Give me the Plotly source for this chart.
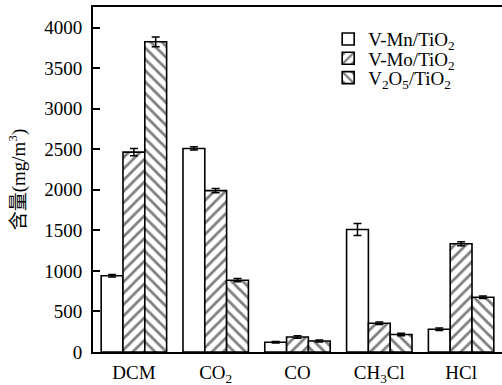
import plotly.graph_objects as go

categories = ["DCM", "CO<sub>2</sub>", "CO", "CH<sub>3</sub>Cl", "HCl"]
series_names = ["V-Mn/TiO<sub>2</sub>", "V-Mo/TiO<sub>2</sub>", "V<sub>2</sub>O<sub>5</sub>/TiO<sub>2</sub>"]
vmn = [940, 2510, 120, 1510, 280]
vmn_err = [15, 20, 10, 75, 15]
vmo = [2465, 1990, 185, 355, 1335]
vmo_err = [45, 25, 15, 15, 25]
v2o5 = [3825, 885, 135, 215, 675]
v2o5_err = [60, 20, 12, 15, 15]
y_ticks = [0, 500, 1000, 1500, 2000, 2500, 3000, 3500, 4000]

FONT = "Liberation Serif, Times New Roman, Noto Sans CJK SC, serif"
patterns = ["", "/", "\\"]
values = [vmn, vmo, v2o5]
errors = [vmn_err, vmo_err, v2o5_err]
legend_ids = ["legend", "legend2", "legend3"]
legend_y = [0.907, 0.851, 0.795]

fig = go.Figure()
for name, vals, errs, pat, lg in zip(series_names, values, errors, patterns, legend_ids):
    fig.add_trace(go.Bar(
        x=list(range(len(categories))), y=vals, name=name, legend=lg,
        marker=dict(color="white", line=dict(color="black", width=1.6),
                    pattern=dict(shape=pat, fgcolor="black", bgcolor="white",
                                 size=8, solidity=0.35)),
        error_y=dict(type="data", array=errs, visible=True, color="black",
                     thickness=1.5, width=4),
    ))

legend_common = dict(x=0.575, xanchor="left", yanchor="middle",
                     bgcolor="rgba(0,0,0,0)", font=dict(size=19),
                     borderwidth=0)
layout_legends = {lg: dict(legend_common, y=yy) for lg, yy in zip(legend_ids, legend_y)}

fig.update_layout(
    width=502, height=385,
    margin=dict(l=93, r=0, t=7, b=33),
    paper_bgcolor="white", plot_bgcolor="white",
    barmode="group", bargap=0.2, bargroupgap=0,
    font=dict(family=FONT, size=19, color="black"),
    showlegend=True,
    xaxis=dict(range=[-0.5, 4.5], tickmode="array",
               tickvals=list(range(len(categories))), ticktext=categories,
               showline=True, linecolor="black", linewidth=2, mirror=True,
               ticks="", showgrid=False, zeroline=False, automargin=False,
               ticklabelstandoff=2, tickfont=dict(size=19)),
    yaxis=dict(range=[0, 4254], tickmode="array", tickvals=y_ticks,
               showline=True, linecolor="black", linewidth=2, mirror=True,
               ticks="inside", ticklen=7, tickwidth=1.5, tickcolor="black",
               showgrid=False, zeroline=False, automargin=False,
               ticklabelstandoff=5, tickfont=dict(size=19),
               title=dict(text="含量(mg/m<sup>3</sup>)", standoff=14,
                          font=dict(size=19))),
    **layout_legends,
)

fig.write_html("out.html", config={"displayModeBar": False},
               post_script="document.body.style.margin='0';document.body.style.overflow='hidden';")
